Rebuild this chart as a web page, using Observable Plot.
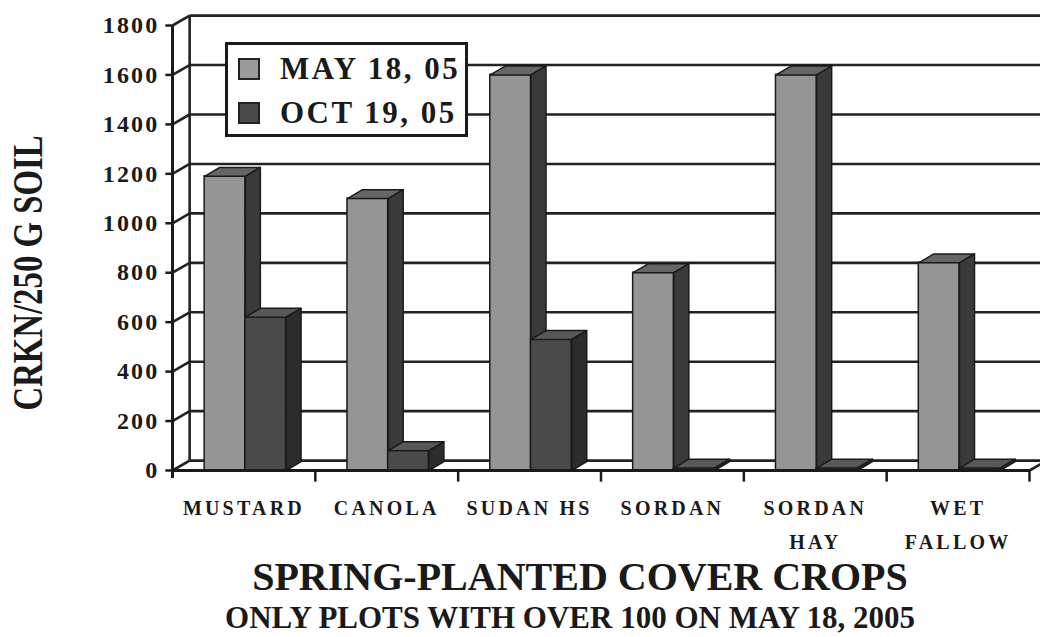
<!DOCTYPE html>
<html><head><meta charset="utf-8">
<script src="https://cdn.jsdelivr.net/npm/d3@7"></script>
<script src="https://cdn.jsdelivr.net/npm/@observablehq/plot@0.6"></script>
<style>
body{margin:0;background:#fff;font-family:"Liberation Serif",serif;}
#wrap{position:relative;width:1040px;height:637px;overflow:hidden;}
#legend{position:absolute;left:225px;top:42px;width:237px;height:89px;border:3px solid #1a1a1a;background:#fff;}
.li{position:absolute;left:10px;display:flex;align-items:center;font-weight:bold;font-size:31px;letter-spacing:2.5px;color:#1a1a1a;white-space:nowrap;}
.sw{width:18px;height:18px;border:2px solid #222;margin-right:20px;}
.t1{position:absolute;left:0;width:1160px;text-align:center;font-weight:bold;color:#1a1a1a;white-space:nowrap;}
</style></head>
<body><div id="wrap"><div id="chart"></div>
<div id="legend">
 <div class="li" style="top:6px"><div class="sw" style="background:#9a9a9a"></div>MAY 18, 05</div>
 <div class="li" style="top:50px"><div class="sw" style="background:#4a4a4a"></div>OCT 19, 05</div>
</div>
<div class="t1" style="top:553px;font-size:40px;">SPRING-PLANTED COVER CROPS</div>
<div class="t1" style="top:600px;font-size:31px;width:1140px;">ONLY PLOTS WITH OVER 100 ON MAY 18, 2005</div>
</div>
<script>
const categories = ["MUSTARD","CANOLA","SUDAN HS","SORDAN","SORDAN\nHAY","WET\nFALLOW"];
const series = ["MAY 18, 05","OCT 19, 05"];
const may18 = [1190, 1100, 1600, 800, 1600, 840];
const oct19 = [620, 80, 530, 10, 10, 10];
const yTicks = [0,200,400,600,800,1000,1200,1400,1600,1800];
const yTitle = "CRKN/250 G SOIL";

// geometry constants (in scale units)
const wdx = 0.12, wdy = 40;    // wall depth
const bdx = 0.105, bdy = 36;   // bar depth
const slots = [[0.225,0.51],[0.51,0.795]];
const colors = [
  {front:"#959595", top:"#666666", side:"#3a3a3a"},
  {front:"#4a4a4a", top:"#585858", side:"#2c2c2c"}
];

const bars = [];
[may18, oct19].forEach((vals, s) => vals.forEach((v, i) => {
  bars.push({s, i, x0: i + slots[s][0], x1: i + slots[s][1], v});
}));
function faces(kind, s){
  const pts = [];
  bars.filter(b => b.s === s).forEach(b => {
    const id = kind + s + "-" + b.i;
    let p;
    if (kind === "top") p = [[b.x0,b.v],[b.x1,b.v],[b.x1+bdx,b.v+bdy],[b.x0+bdx,b.v+bdy]];
    else p = [[b.x1,0],[b.x1,b.v],[b.x1+bdx,b.v+bdy],[b.x1+bdx,bdy]];
    p.forEach(([x,y]) => pts.push({id, x, y}));
  });
  return pts;
}
const barMarks = [];
[0,1].forEach(s => {
  barMarks.push(
    Plot.rect(bars.filter(b => b.s === s), {x1:"x0", x2:"x1", y1:0, y2:"v", fill: colors[s].front, stroke:"#1a1a1a", strokeWidth:1.5}),
    Plot.line(faces("top", s), {x:"x", y:"y", z:"id", curve:"linear-closed", fill: colors[s].top, stroke:"#1a1a1a", strokeWidth:1.5}),
    Plot.line(faces("side", s), {x:"x", y:"y", z:"id", curve:"linear-closed", fill: colors[s].side, stroke:"#1a1a1a", strokeWidth:1.5})
  );
});
const gridBack = yTicks.filter(t => t > 0);
const plot = Plot.plot({
  width: 1040, height: 553,
  marginLeft: 172, marginTop: 25, marginBottom: 83, marginRight: 11,
  x: {domain:[0,6], range:[172,1029], axis:null},
  y: {domain:[0,1800], range:[470,25], axis:null},
  style: {fontFamily:"Liberation Serif, serif", color:"#1a1a1a"},
  marks: [
    Plot.link(gridBack, {x1: wdx, y1: d => d + wdy, x2: 6.2, y2: d => d + wdy, stroke:"#222", strokeWidth:2.6}),
    Plot.link(yTicks, {x1: 0, y1: d => d, x2: wdx, y2: d => d + wdy, stroke:"#222", strokeWidth:2.6}),
    Plot.link([0], {x1: wdx, y1: wdy, x2: wdx, y2: 1800 + wdy, stroke:"#222", strokeWidth:2.6}),
    Plot.link([0], {x1: wdx, y1: wdy, x2: 6.2, y2: wdy, stroke:"#222", strokeWidth:2.6}),
    Plot.link([0], {x1: 6, y1: 0, x2: 6 + wdx, y2: wdy, stroke:"#222", strokeWidth:2.6}),
    ...barMarks,
    Plot.link([0], {x1: 0, y1: 0, x2: 6, y2: 0, stroke:"#1a1a1a", strokeWidth:3}),
    Plot.link([0], {x1: 0, y1: -30, x2: 0, y2: 1800, stroke:"#1a1a1a", strokeWidth:3}),
    Plot.link(yTicks, {x1: -0.05, y1: d => d, x2: 0, y2: d => d, stroke:"#1a1a1a", strokeWidth:2.5}),
    Plot.link(d3.range(1, 7), {x1: d => d, y1: 0, x2: d => d, y2: -45, stroke:"#1a1a1a", strokeWidth:2.5}),
    Plot.text(yTicks, {x: 0, y: d => d, text: d => String(d), dx: -13, textAnchor:"end", fontSize: 24, fontWeight:"bold", fill:"#1a1a1a"}),
    Plot.text(categories, {x: (d, i) => i + 0.5, y: 0, text: d => d, dy: 20, lineAnchor:"top", lineHeight: 1.7, fontSize: 20, fontWeight:"bold", fill:"#1a1a1a"}),
    Plot.text([yTitle], {frameAnchor:"left", dx:-144, dy:25, rotate:-90, textAnchor:"middle", fontSize:42, fontWeight:"bold", fill:"#1a1a1a"})
  ]
});
const tickStrs = yTicks.map(String);
d3.select(plot).selectAll("text").each(function(){
  const t = this.textContent;
  if (tickStrs.includes(t)) d3.select(this).attr("letter-spacing", "2.2");
  else if (t === yTitle) d3.select(this).attr("textLength", 275).attr("lengthAdjust", "spacingAndGlyphs");
  else d3.select(this).attr("letter-spacing", "3.2");
});
document.getElementById("chart").appendChild(plot);
</script></body></html>
